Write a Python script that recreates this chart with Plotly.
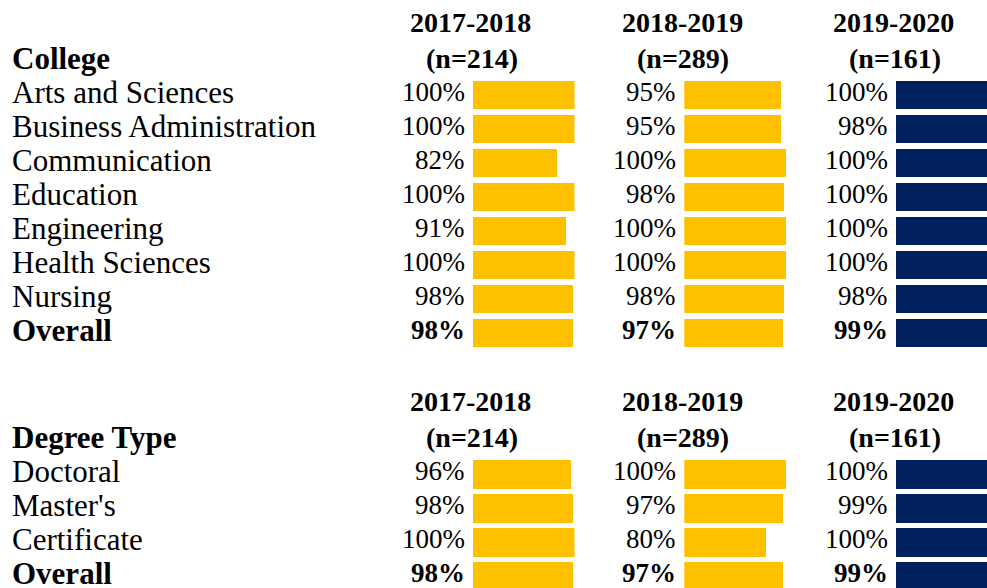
import plotly.graph_objects as go

# ---- data ----------------------------------------------------------------
years = ["2017-2018", "2018-2019", "2019-2020"]
sample_sizes = [214, 289, 161]

colleges = ["Arts and Sciences", "Business Administration", "Communication",
            "Education", "Engineering", "Health Sciences", "Nursing", "Overall"]
college_2017 = [100, 100, 82, 100, 91, 100, 98, 98]
college_2018 = [95, 95, 100, 98, 100, 100, 98, 97]
college_2019 = [100, 98, 100, 100, 100, 100, 98, 99]

degree_types = ["Doctoral", "Master's", "Certificate", "Overall"]
degree_2017 = [96, 98, 100, 98]
degree_2018 = [100, 97, 80, 97]
degree_2019 = [100, 99, 100, 99]

GOLD = "#FFC000"
NAVY = "#002060"
col_colors = [GOLD, GOLD, NAVY]

# ---- layout constants ----------------------------------------------------
W, H = 987, 588
ROW_PX = 34              # pixel height of one table row
ROW0_PX = 95             # pixel centre of the first data row
SECTION2_START = 11.16   # row index of the first degree-type row
BAR_PX = 102             # pixels spanned by 100%
col_starts = [472.5, 684.3, 895.8]
FONT = "Liberation Serif"
TEXT_LIFT = 3            # vertical nudge of text relative to row centres

college_rows = list(range(len(colleges)))
degree_rows = [SECTION2_START + i for i in range(len(degree_types))]

sections = [
    ("College", colleges, college_rows, [college_2017, college_2018, college_2019]),
    ("Degree Type", degree_types, degree_rows, [degree_2017, degree_2018, degree_2019]),
]

fig = go.Figure()
annotations = []

axis_names = ["x", "x2", "x3"]
layout_axes = {}
for c, x0 in enumerate(col_starts):
    x1 = min(x0 + BAR_PX, W)
    span = 100 * (x1 - x0) / BAR_PX
    key = "xaxis" if c == 0 else f"xaxis{c + 1}"
    layout_axes[key] = dict(domain=[x0 / W, x1 / W], range=[0, span],
                            visible=False, fixedrange=True, anchor="y")

for title, cats, rows, cols in sections:
    first = rows[0]
    # row-label column
    annotations.append(dict(xref="paper", yref="y", x=10 / W, y=first - 1,
                            text=f"<b>{title}</b>", showarrow=False,
                            xanchor="left", yanchor="middle", yshift=TEXT_LIFT,
                            font=dict(family=FONT, size=31, color="black")))
    for cat, r in zip(cats, rows):
        txt = f"<b>{cat}</b>" if cat == "Overall" else cat
        annotations.append(dict(xref="paper", yref="y", x=10 / W, y=r,
                                text=txt, showarrow=False,
                                xanchor="left", yanchor="middle", yshift=TEXT_LIFT,
                                font=dict(family=FONT, size=31, color="black")))
    for c, vals in enumerate(cols):
        ax = axis_names[c]
        fig.add_trace(go.Bar(x=vals, y=rows, orientation="h", width=0.84,
                             marker=dict(color=col_colors[c], line=dict(width=0)),
                             xaxis=ax, yaxis="y", showlegend=False,
                             hoverinfo="skip"))
        # column headers
        annotations.append(dict(xref=ax, yref="y", x=0, y=first - 2.05,
                                text=f"<b>{years[c]}</b>", showarrow=False,
                                xanchor="center", yanchor="middle", xshift=-2,
                                yshift=TEXT_LIFT,
                                font=dict(family=FONT, size=28, color="black")))
        annotations.append(dict(xref=ax, yref="y", x=0, y=first - 1,
                                text=f"<b>(n={sample_sizes[c]})</b>", showarrow=False,
                                xanchor="center", yanchor="middle", xshift=-1,
                                yshift=TEXT_LIFT,
                                font=dict(family=FONT, size=28, color="black")))
        # value labels
        for cat, v, r in zip(cats, vals, rows):
            bold = cat == "Overall"
            txt = f"<b>{v}%</b>" if bold else f"{v}%"
            annotations.append(dict(xref=ax, yref="y", x=0, y=r,
                                    text=txt, showarrow=False,
                                    xanchor="right", yanchor="middle", xshift=-6,
                                    yshift=TEXT_LIFT,
                                    font=dict(family=FONT, size=27, color="black")))

y_top = -ROW0_PX / ROW_PX
y_bottom = (H - ROW0_PX) / ROW_PX

fig.update_layout(
    width=W, height=H,
    margin=dict(l=0, r=0, t=0, b=0),
    paper_bgcolor="white", plot_bgcolor="white",
    bargap=0,
    yaxis=dict(range=[y_bottom, y_top], visible=False, fixedrange=True,
               domain=[0, 1]),
    annotations=annotations,
    **layout_axes,
)

fig.write_html("out.html")
